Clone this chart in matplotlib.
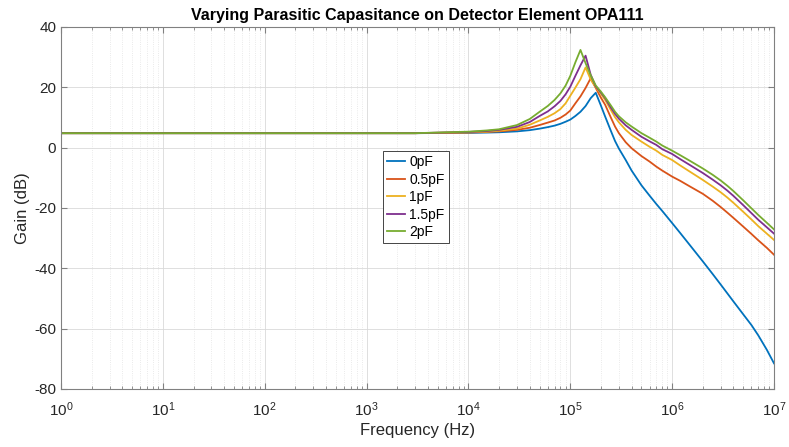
import numpy as np
import matplotlib.pyplot as plt
from matplotlib.ticker import LogLocator, NullFormatter

plt.rcParams['font.family'] = ['Liberation Sans', 'DejaVu Sans']
plt.rcParams['axes.unicode_minus'] = False

# frequences (Hz)
freq = [1, 10, 100, 1e3, 3e3, 1e4, 1.5e4, 2e4, 3e4, 4e4, 5e4, 6e4, 7e4, 8e4, 9e4,
        1e5, 1.122e5, 1.259e5, 1.413e5, 1.585e5, 1.778e5, 1.995e5, 2.2e5, 2.5e5, 2.75e5,
        3e5, 3.5e5, 4e5, 5e5, 6e5, 7e5, 8e5, 1e6, 1.2e6, 1.5e6, 2e6, 2.5e6, 3e6,
        3.5e6, 4e6, 5e6, 6e6, 7e6, 8.5e6, 1e7]

gain_0pF = [4.8, 4.8, 4.8, 4.8, 4.8, 4.9, 5.0, 5.1, 5.4, 5.8, 6.3, 6.8, 7.3, 7.9, 8.6,
            9.3, 10.5, 11.9, 13.8, 16.4, 18.2, 14.0, 10.3, 5.6, 2.2,
            -0.3, -4.1, -7.6, -12.5, -15.9, -18.7, -21.0, -25.0, -28.3, -32.4, -37.7, -41.9, -45.4,
            -48.4, -51.0, -55.3, -58.8, -62.2, -67.0, -71.5]
gain_05pF = [4.8, 4.8, 4.8, 4.8, 4.8, 5.0, 5.2, 5.4, 5.9, 6.6, 7.5, 8.3, 9.0, 9.9, 11.0,
             12.3, 14.7, 17.0, 19.8, 23.0, 19.8, 16.6, 14.2, 10.0, 7.0,
             4.8, 1.8, -0.2, -2.8, -4.6, -6.3, -7.6, -9.6, -11.0, -12.9, -15.3, -17.6, -19.7,
             -21.6, -23.3, -26.2, -28.6, -30.7, -33.2, -35.5]
gain_1pF = [4.8, 4.8, 4.8, 4.8, 4.8, 5.1, 5.3, 5.6, 6.3, 7.6, 9.0, 10.2, 11.4, 12.8, 14.7,
            17.2, 19.9, 22.7, 26.6, 22.6, 20.0, 17.9, 15.8, 12.5, 10.1,
            8.4, 5.9, 4.2, 2.0, 0.3, -1.0, -2.4, -4.1, -5.9, -8.0, -10.7, -12.9, -14.8,
            -16.6, -18.3, -21.3, -23.8, -26.0, -28.5, -30.6]
gain_15pF = [4.8, 4.8, 4.8, 4.8, 4.8, 5.2, 5.5, 5.9, 6.9, 8.5, 10.5, 12.0, 13.7, 15.5, 17.7,
             20.2, 23.8, 27.3, 30.5, 24.2, 20.3, 18.3, 16.4, 13.3, 11.2,
             9.6, 7.4, 5.9, 3.6, 2.1, 0.9, -0.5, -2.1, -3.8, -5.8, -8.4, -10.6, -12.5,
             -14.3, -16.0, -19.1, -21.7, -23.9, -26.4, -28.5]
gain_2pF = [4.8, 4.8, 4.8, 4.8, 4.8, 5.3, 5.7, 6.1, 7.5, 9.5, 11.9, 13.8, 15.8, 18.0, 20.6,
            23.8, 28.3, 32.4, 28.0, 24.0, 20.6, 18.6, 16.7, 14.0, 11.9,
            10.4, 8.4, 7.0, 4.8, 3.3, 2.0, 0.7, -1.0, -2.5, -4.4, -6.9, -9.0, -10.9,
            -12.7, -14.4, -17.5, -20.1, -22.3, -24.9, -27.1]

labels = ['0pF', '0.5pF', '1pF', '1.5pF', '2pF']
couleurs = ['#0072BD', '#D95319', '#EDB120', '#7E2F8E', '#77AC30']
series = [gain_0pF, gain_05pF, gain_1pF, gain_15pF, gain_2pF]

fig = plt.figure(figsize=(7.89, 4.47), dpi=100)
ax = fig.add_axes([0.0773, 0.1298, 0.9037, 0.8098])

for g, lab, c in zip(series, labels, couleurs):
    ax.semilogx(freq, g, color=c, linewidth=1.3, label=lab)

ax.set_xlim(1, 1e7)
ax.set_ylim(-80, 40)
ax.set_yticks(np.arange(-80, 41, 20))
ax.xaxis.set_major_locator(LogLocator(base=10, numticks=10))
ax.xaxis.set_minor_locator(LogLocator(base=10, subs=np.arange(2, 10), numticks=100))
ax.xaxis.set_minor_formatter(NullFormatter())

# grille style MATLAB
ax.grid(True, which='major', color='#d9d9d9', linewidth=0.6)
ax.grid(True, which='minor', axis='x', color='#e3e3e3', linestyle=':', linewidth=0.6)
ax.set_axisbelow(True)

for s in ax.spines.values():
    s.set_color('#808080')
    s.set_linewidth(0.8)
ax.tick_params(which='both', direction='in', top=True, right=True, colors='#808080',
               labelcolor='#262626', labelsize=11)
ax.tick_params(which='major', length=4)
ax.tick_params(which='minor', length=2.5)
ax.tick_params(axis='x', which='major', pad=8)

ax.set_title('Varying Parasitic Capasitance on Detector Element OPA111',
             fontweight='bold', fontsize=11.5, pad=5)
ax.set_xlabel('Frequency (Hz)', fontsize=12, color='#262626', labelpad=3)
ax.set_ylabel('Gain (dB)', fontsize=12, color='#262626', labelpad=3)

leg = ax.legend(loc='upper left', bbox_to_anchor=(0.4516, 0.657), fontsize=10,
                fancybox=False, framealpha=1, edgecolor='#262626', handlelength=1.3,
                borderpad=0.3, labelspacing=0.25, handletextpad=0.3, borderaxespad=0)
leg.get_frame().set_linewidth(0.6)

fig.savefig('out.png', dpi=100)
